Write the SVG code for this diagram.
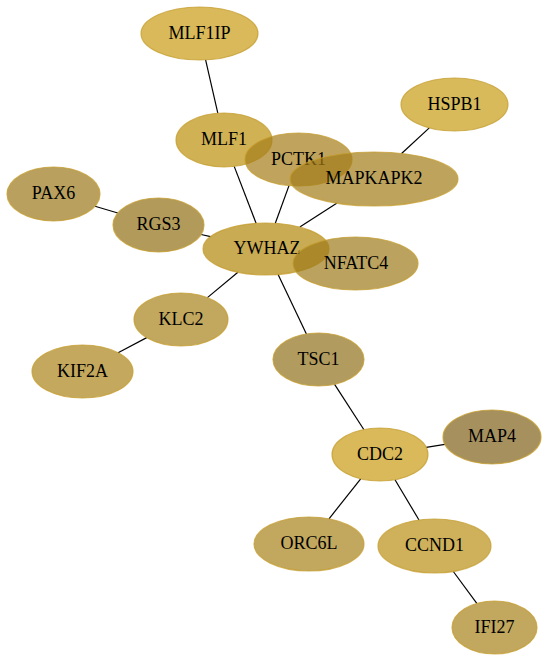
<svg xmlns="http://www.w3.org/2000/svg" width="548" height="661" viewBox="0 0 548 661">
<style>
.bg{fill:#ffffff}
.edges line{stroke:#000000;stroke-width:1.2;fill:none}
.node ellipse{fill-opacity:0.7;stroke:#c49c2c;stroke-opacity:0.75;stroke-width:1.2}
.node text{font-family:"Liberation Serif","Times New Roman",serif;font-size:18px;text-anchor:middle;fill:#000000}
</style>
<rect class="bg" x="0" y="0" width="548" height="661"/>
<g id="connectors" class="edges">
<line x1="205.6" y1="59.9" x2="217.8" y2="113.2"/>
<line x1="234.2" y1="166.4" x2="256.1" y2="223.3"/>
<line x1="289.0" y1="185.6" x2="275.3" y2="223.3"/>
<line x1="336.7" y1="203.2" x2="299.8" y2="227.1"/>
<line x1="401.6" y1="153.5" x2="429.3" y2="127.9"/>
<line x1="95.0" y1="206.2" x2="117.8" y2="213.0"/>
<line x1="201.1" y1="234.5" x2="210.6" y2="236.6"/>
<line x1="237.9" y1="272.3" x2="207.4" y2="297.6"/>
<line x1="146.7" y1="337.6" x2="118.1" y2="352.7"/>
<line x1="278.1" y1="274.5" x2="306.4" y2="334.0"/>
<line x1="334.6" y1="384.3" x2="363.8" y2="429.5"/>
<line x1="426.2" y1="447.3" x2="444.9" y2="444.4"/>
<line x1="360.7" y1="478.8" x2="329.0" y2="518.8"/>
<line x1="395.0" y1="479.7" x2="419.0" y2="520.0"/>
<line x1="453.3" y1="571.5" x2="476.8" y2="603.4"/>
</g>
<g id="MLF1IP" class="node"><ellipse cx="199.5" cy="33.5" rx="58.5" ry="26.5" fill="#c99b13"/><text x="199.5" y="38.5">MLF1IP</text></g>
<g id="HSPB1" class="node"><ellipse cx="454.5" cy="104.5" rx="53.5" ry="26.5" fill="#c79c16"/><text x="454.5" y="109.5">HSPB1</text></g>
<g id="MLF1" class="node"><ellipse cx="224" cy="140" rx="48" ry="27" fill="#bc900c"/><text x="224" y="145">MLF1</text></g>
<g id="PCTK1" class="node"><ellipse cx="298.5" cy="159.5" rx="53.5" ry="26.5" fill="#a57e19"/><text x="298.5" y="164.5">PCTK1</text></g>
<g id="MAPKAPK2" class="node"><ellipse cx="374" cy="179" rx="84" ry="27" fill="#a27c18"/><text x="374" y="184">MAPKAPK2</text></g>
<g id="PAX6" class="node"><ellipse cx="53.5" cy="194" rx="46.5" ry="27" fill="#9b7719"/><text x="53.5" y="199">PAX6</text></g>
<g id="RGS3" class="node"><ellipse cx="158.5" cy="225" rx="45.5" ry="27" fill="#916f16"/><text x="158.5" y="230">RGS3</text></g>
<g id="YWHAZ" class="node"><ellipse cx="266" cy="249" rx="63" ry="26" fill="#b2870c"/><text x="267" y="254">YWHAZ</text></g>
<g id="NFATC4" class="node"><ellipse cx="355.5" cy="263.5" rx="62.5" ry="26.5" fill="#9e7a1a"/><text x="356" y="268.5">NFATC4</text></g>
<g id="KLC2" class="node"><ellipse cx="181" cy="319.5" rx="47" ry="26.5" fill="#a88119"/><text x="181" y="324.5">KLC2</text></g>
<g id="KIF2A" class="node"><ellipse cx="82.5" cy="371.5" rx="50.5" ry="26.5" fill="#ab8319"/><text x="82.5" y="376.5">KIF2A</text></g>
<g id="TSC1" class="node"><ellipse cx="318.5" cy="359.5" rx="45.5" ry="26.5" fill="#917019"/><text x="318.5" y="364.5">TSC1</text></g>
<g id="MAP4" class="node"><ellipse cx="492" cy="437" rx="49" ry="27" fill="#806219"/><text x="492" y="442">MAP4</text></g>
<g id="CDC2" class="node"><ellipse cx="380" cy="454.5" rx="48" ry="26.5" fill="#c99b13"/><text x="380" y="459.5">CDC2</text></g>
<g id="ORC6L" class="node"><ellipse cx="309" cy="544" rx="55" ry="27" fill="#a88119"/><text x="309" y="549">ORC6L</text></g>
<g id="CCND1" class="node"><ellipse cx="434.5" cy="546" rx="56.5" ry="27" fill="#ba9015"/><text x="434.5" y="551">CCND1</text></g>
<g id="IFI27" class="node"><ellipse cx="494.5" cy="627.5" rx="42.5" ry="26.5" fill="#a88119"/><text x="494.5" y="632.5">IFI27</text></g>
</svg>
